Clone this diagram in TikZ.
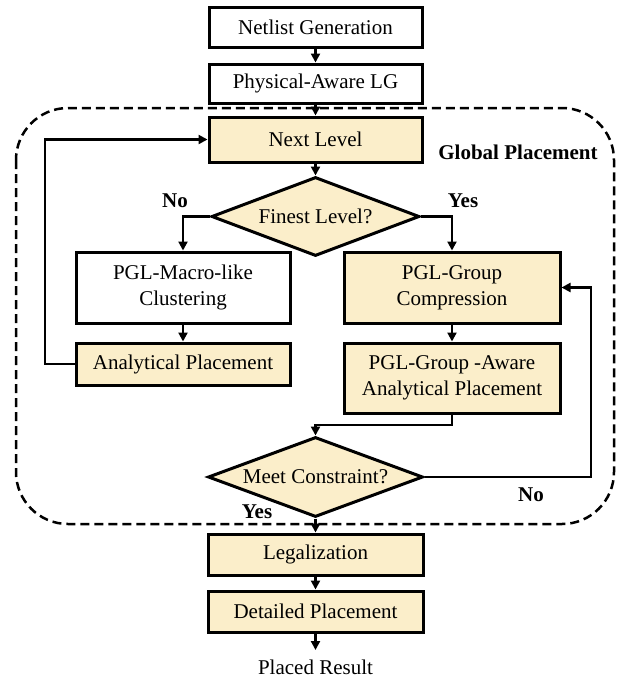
\documentclass[tikz,border=0pt]{standalone}
\usepackage{fontspec}
\setmainfont{Liberation Serif}
\usetikzlibrary{shapes.geometric,arrows.meta}
\definecolor{stagefill}{RGB}{251,238,202}
\begin{document}
\begin{tikzpicture}[x=1pt,y=-1pt,
  font=\fontsize{21}{26}\selectfont,
  box/.style={draw=black,line width=3pt,inner sep=0pt,align=center},
  plainbox/.style={box,fill=white},
  hlbox/.style={box,fill=stagefill},
  decision/.style={diamond,draw=black,line width=3pt,fill=stagefill,inner sep=0pt,aspect=2.65},
  arr/.style={line width=2.2pt,-{Triangle[length=9pt,width=9pt]}},
  lbl/.style={font=\fontsize{21}{26}\selectfont\bfseries,inner sep=0pt}]
\useasboundingbox (0,0) rectangle (619,683);

% global placement region
\draw[line width=2.5pt,dash pattern=on 9pt off 5pt,rounded corners=52pt]
  (16,108) rectangle (614,524);
\node[lbl] (gp) at (518,152) {Global Placement};

% main column
\node[plainbox,minimum width=213pt,minimum height=40pt] (net) at (315.5,27) {Netlist Generation};
\node[plainbox,minimum width=213pt,minimum height=39pt] (pal) at (315.5,83.5) {Physical-Aware LG};
\node[hlbox,minimum width=213pt,minimum height=45pt] (next) at (315.5,139.5) {Next Level};
\node[decision,minimum width=208pt,minimum height=79pt] (finest) at (315.5,216.5) {Finest Level?};

% left branch
\node[plainbox,minimum width=214pt,minimum height=71pt] (macro) at (183,287.5) {PGL-Macro-like\\Clustering};
\node[hlbox,minimum width=214pt,minimum height=42pt] (ap) at (183,364) {Analytical Placement};

% right branch
\node[hlbox,minimum width=216pt,minimum height=71pt] (grp) at (452,287.5) {PGL-Group\\Compression};
\node[hlbox,minimum width=216pt,minimum height=70pt] (gap) at (452,378) {PGL-Group -Aware\\Analytical Placement};

\node[decision,minimum width=215pt,minimum height=80pt] (meet) at (315.5,477) {Meet Constraint?};

% after global placement
\node[hlbox,minimum width=215pt,minimum height=41pt] (leg) at (315.5,554.5) {Legalization};
\node[hlbox,minimum width=215pt,minimum height=41pt] (det) at (315.5,611.5) {Detailed Placement};
\node[anchor=north,inner xsep=0pt,inner ysep=10pt] (placed) at (315.5,650) {Placed Result};

% branch labels
\node[lbl] (noA) at (175,201) {No};
\node[lbl] (yesA) at (463,201) {Yes};
\node[lbl] (noB) at (531,495) {No};
\node[lbl] (yesB) at (257,512) {Yes};

% connectors
\draw[arr] (net) -- (pal);
\draw[arr] (pal) -- (next);
\draw[arr] (next) -- (finest);
\draw[arr] (finest.west) -| (macro.north);
\draw[arr] (finest.east) -| (grp.north);
\draw[arr] (macro) -- (ap);
\draw[arr] (grp) -- (gap);
\coordinate (loopL) at (45,364);
\draw[arr] (ap.west) -- (loopL) |- (next.west);
\coordinate (joinM) at (315.5,425);
\draw[arr] (gap.south) |- (joinM) -- (meet.north);
\coordinate (loopR) at (591,477);
\draw[arr] (meet.east) -- (loopR) |- (grp.east);
\draw[arr] (meet.south) -- (leg.north);
\draw[arr] (leg) -- (det);
\draw[arr] (det.south) -- (placed.north);
\end{tikzpicture}
\end{document}
